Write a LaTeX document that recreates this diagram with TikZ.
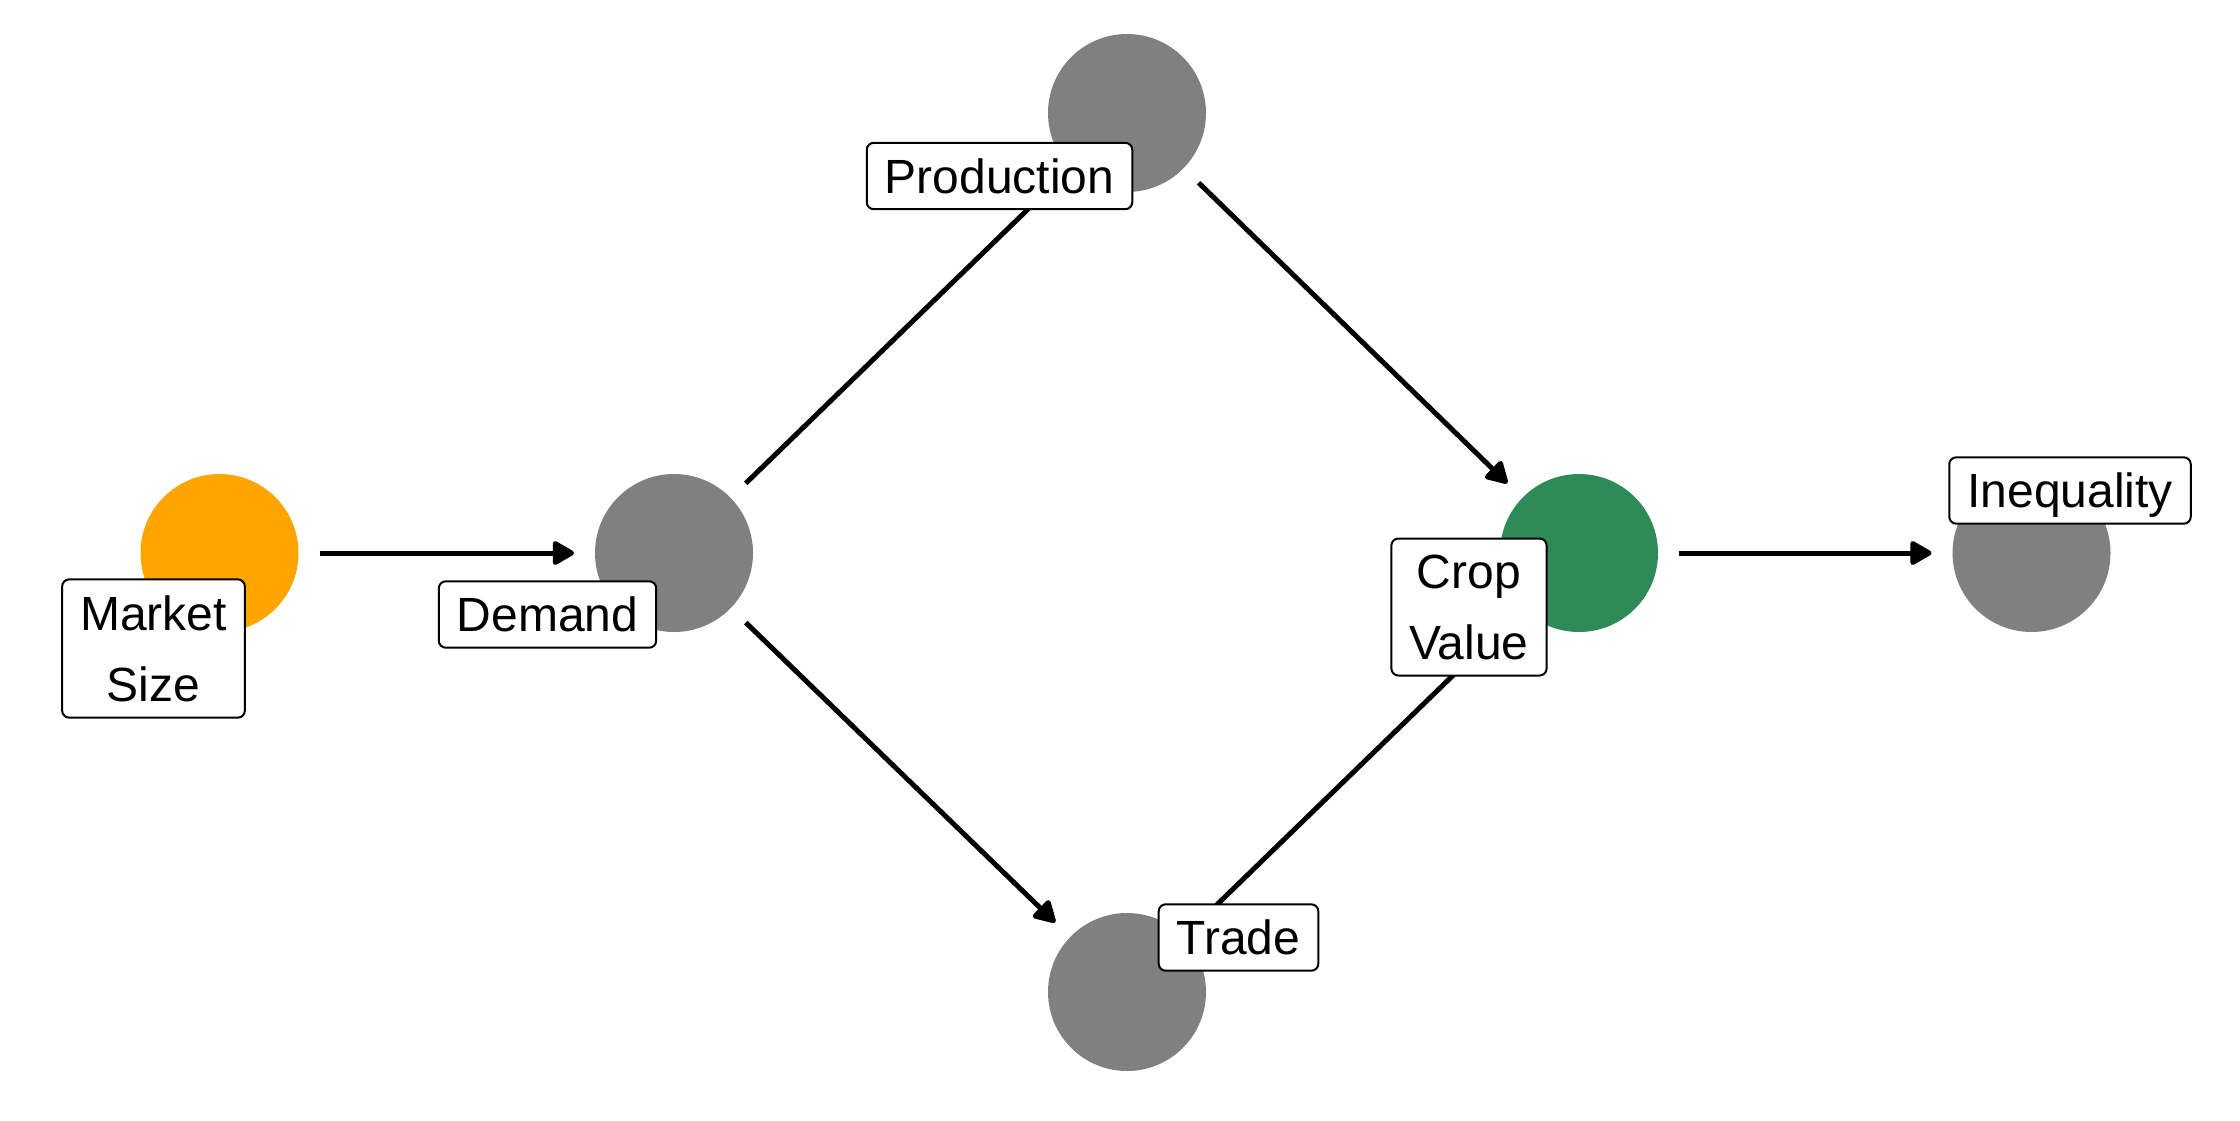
\documentclass[tikz,border=0pt]{standalone}
\usepackage{fontspec}
\setmainfont{Liberation Sans}
\usetikzlibrary{arrows.meta}
\definecolor{cgray}{HTML}{808080}
\definecolor{corange}{HTML}{FFA500}
\definecolor{cgreen}{HTML}{2E8B57}
\begin{document}
\begin{tikzpicture}[x=1pt,y=-1pt,
  dot/.style={circle, minimum size=158pt, inner sep=0pt, outer sep=21pt, fill=#1},
  lbl/.style={draw=black, line width=2pt, fill=white, rounded corners=7pt,
    inner xsep=18pt, inner ysep=16pt, font=\fontsize{48pt}{71pt}\selectfont, align=center},
  one/.style={text height=34.4pt, text depth=0pt},
  edge/.style={line width=5pt, -{Triangle[length=24pt,width=26pt,round]}}
]
\fill[white] (0,0) rectangle (2240,1120);
\useasboundingbox (0,0) rectangle (2240,1120);
% circles
\node[dot=corange] (ms) at (219.5,553) {};
\node[dot=cgray]   (de) at (674,553) {};
\node[dot=cgray]   (pr) at (1127,113) {};
\node[dot=cgray]   (tr) at (1127,992) {};
\node[dot=cgreen]  (cv) at (1579,553) {};
\node[dot=cgray]   (iq) at (2031.5,553) {};
% edges
\draw[edge] (ms) -- (de);
\draw[edge] (de) -- (pr);
\draw[edge] (de) -- (tr);
\draw[edge] (pr) -- (cv);
\draw[edge] (tr) -- (cv);
\draw[edge] (cv) -- (iq);
% labels
\node[lbl]     (msl) at (153.5,648.5) {Market\\Size};
\node[lbl,one] (del) at (547.5,614.5) {Demand};
\node[lbl,one] (prl) at (999.5,176) {Production};
\node[lbl]     (cvl) at (1469,607) {Crop\\Value};
\node[lbl,one] (iql) at (2070,490.5) {Inequality};
\node[lbl,one] (trl) at (1238.5,937.5) {Trade};
\end{tikzpicture}
\end{document}
